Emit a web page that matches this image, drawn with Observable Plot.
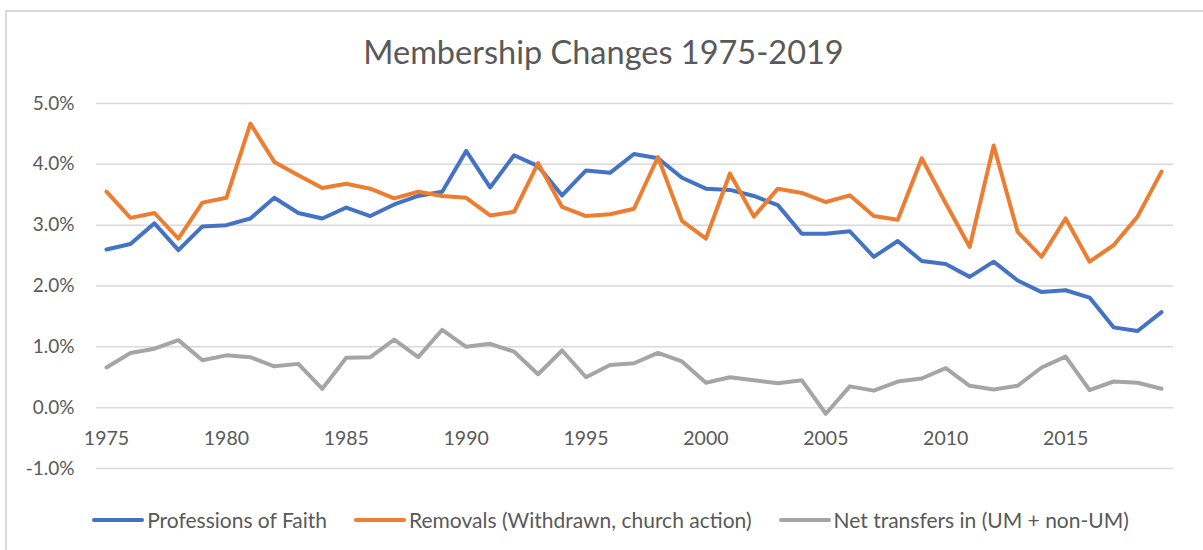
<!DOCTYPE html>
<html>
<head>
<meta charset="utf-8">
<script src="https://cdn.jsdelivr.net/npm/d3@7"></script>
<script src="https://cdn.jsdelivr.net/npm/@observablehq/plot@0.6"></script>
<style>
  body { margin: 0; background: #fff; font-family: Lato, "Open Sans", sans-serif; }
  #chart { position: relative; width: 1203px; height: 550px; overflow: hidden; }
  #frame { position: absolute; left: 5px; top: 10px; right: -2px; bottom: -2px; border-top: 2px solid #d9d9d9; border-left: 2px solid #d9d9d9; pointer-events: none; }
  #title { height: 81px; box-sizing: border-box; padding-top: 36px; line-height: 32px; text-align: center; font-size: 32.5px; color: #595959; padding-left: 4px; }
  #plot svg { display: block; }
  #legend { height: 69px; box-sizing: border-box; padding-top: 9px; display: flex; justify-content: center; gap: 27px; padding-left: 18px; }
  .item { display: flex; align-items: center; line-height: 24px; font-size: 21px; color: #595959; }
  .sw { width: 52px; height: 4px; border-radius: 2px; margin-right: 3px; }
</style>
</head>
<body>
<div id="chart">
  <div id="frame"></div>
  <div id="title">Membership Changes 1975-2019</div>
  <div id="plot"></div>
  <div id="legend"></div>
</div>
<script>
const years = [1975,1976,1977,1978,1979,1980,1981,1982,1983,1984,
               1985,1986,1987,1988,1989,1990,1991,1992,1993,1994,
               1995,1996,1997,1998,1999,2000,2001,2002,2003,2004,
               2005,2006,2007,2008,2009,2010,2011,2012,2013,2014,
               2015,2016,2017,2018,2019];
const professions = [2.60,2.69,3.03,2.59,2.98,3.00,3.11,3.45,3.20,3.11,
                     3.29,3.15,3.34,3.48,3.55,4.22,3.62,4.15,3.97,3.49,
                     3.90,3.86,4.17,4.10,3.78,3.60,3.58,3.48,3.33,2.86,
                     2.86,2.90,2.48,2.74,2.41,2.36,2.15,2.40,2.09,1.90,
                     1.93,1.81,1.32,1.26,1.57];
const removals = [3.55,3.12,3.20,2.78,3.37,3.45,4.67,4.04,3.82,3.61,
                  3.68,3.60,3.44,3.55,3.48,3.45,3.16,3.22,4.02,3.30,
                  3.15,3.18,3.27,4.12,3.07,2.78,3.85,3.14,3.60,3.53,
                  3.38,3.49,3.15,3.09,4.10,3.36,2.64,4.31,2.89,2.48,
                  3.11,2.40,2.67,3.14,3.88];
const transfers = [0.66,0.90,0.97,1.11,0.78,0.86,0.83,0.68,0.72,0.31,
                   0.82,0.83,1.12,0.83,1.28,1.00,1.05,0.92,0.55,0.94,
                   0.50,0.70,0.73,0.90,0.76,0.41,0.50,0.45,0.40,0.45,
                   -0.10,0.35,0.28,0.43,0.48,0.65,0.36,0.30,0.36,0.66,
                   0.84,0.29,0.43,0.41,0.31];
const seriesNames = ["Professions of Faith", "Removals (Withdrawn, church action)", "Net transfers in (UM + non-UM)"];
const seriesColors = ["#4472C4", "#ED7D31", "#A5A5A5"];
const yTicks = [-1, 0, 1, 2, 3, 4, 5];
const xTicks = [1975, 1980, 1985, 1990, 1995, 2000, 2005, 2010, 2015];

const seriesValues = [professions, removals, transfers];
const data = [];
seriesNames.forEach((name, si) => {
  years.forEach((yr, i) => data.push({ year: yr, value: seriesValues[si][i], series: name }));
});

const chart = Plot.plot({
  width: 1203,
  height: 400,
  marginLeft: 96,
  marginRight: 30,
  marginTop: 22,
  marginBottom: 13,
  style: { fontFamily: "Lato, 'Open Sans', sans-serif", background: "transparent" },
  x: { domain: [1974.583, 2019.5], axis: null },
  y: { domain: [-1, 5], axis: null },
  color: { domain: seriesNames, range: seriesColors },
  marks: [
    Plot.gridY(yTicks, { stroke: "#d9d9d9", strokeOpacity: 1, strokeWidth: 1.5 }),
    Plot.axisY(yTicks, { tickSize: 0, tickPadding: 22, label: null, tickFormat: d => d.toFixed(1) + "%", fontSize: 19, color: "#595959" }),
    Plot.text(xTicks, { x: d => d, y: 0, dy: 31, text: d => String(d), fontSize: 19.5, fill: "#595959" }),
    Plot.line(data, { x: "year", y: "value", z: "series", stroke: "series", strokeWidth: 4, strokeLinejoin: "round", strokeLinecap: "round" })
  ]
});
document.getElementById("plot").appendChild(chart);

const legend = document.getElementById("legend");
seriesNames.forEach((name, i) => {
  const item = document.createElement("div");
  item.className = "item";
  const sw = document.createElement("span");
  sw.className = "sw";
  sw.style.background = seriesColors[i];
  const t = document.createElement("span");
  t.textContent = name;
  item.appendChild(sw);
  item.appendChild(t);
  legend.appendChild(item);
});
</script>
</body>
</html>
